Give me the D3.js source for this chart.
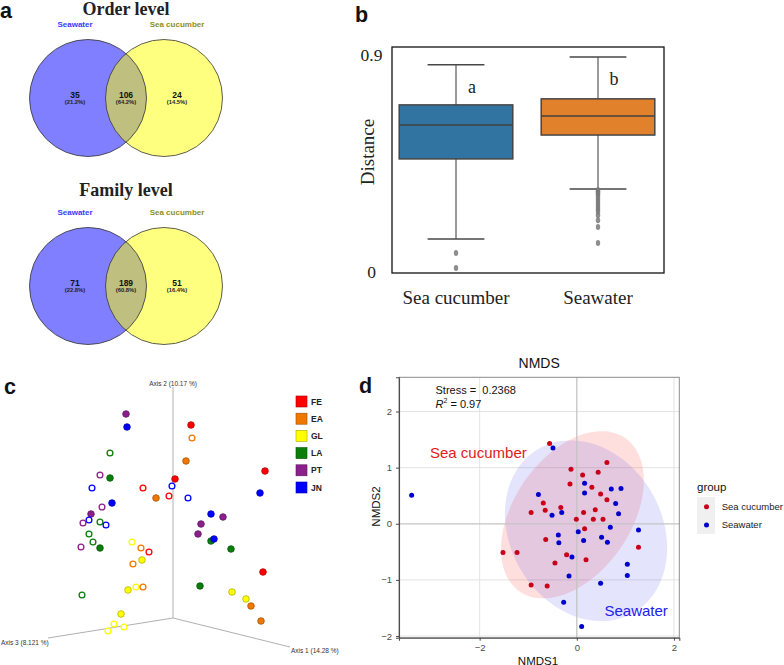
<!DOCTYPE html>
<html>
<head>
<meta charset="utf-8">
<script src="https://cdn.jsdelivr.net/npm/d3@7"></script>
<style>
  body { margin: 0; background: #fff; }
  svg { display: block; }
  .sans { font-family: "Liberation Sans", Arial, sans-serif; }
  .serif { font-family: "Liberation Serif", "Times New Roman", serif; }
</style>
</head>
<body>
<div id="chart"></div>
<script>
// ---------- panel a : venn diagrams
const vennTitles = ["Order level", "Family level"];
const vennSets = ["Seawater", "Sea cucumber"];
const vennCounts = [[35, 106, 24], [71, 189, 51]];
const vennPercents = [["21.2%", "64.2%", "14.5%"], ["22.8%", "60.8%", "16.4%"]];

// ---------- panel b : distance boxplots
const boxGroups = ["Sea cucumber", "Seawater"];
const boxLowWhisker = [0.137, 0.344];
const boxQ1 = [0.469, 0.568];
const boxMedian = [0.610, 0.647];
const boxQ3 = [0.693, 0.718];
const boxHighWhisker = [0.859, 0.892];
const boxOutliers = [
    [0.079, 0.017],
    [0.34, 0.335, 0.33, 0.325, 0.32, 0.31, 0.30, 0.29, 0.28, 0.27, 0.26, 0.25, 0.235, 0.215, 0.187, 0.120]
];
const boxLetters = ["a", "b"];
const boxTicks = [0, 0.9];

// ---------- panel c : 3D PCoA (projected coordinates)
const siteNames = ["FE", "EA", "GL", "LA", "PT", "JN"];
const pcoaAxisNames = ["Axis 1 (14.28 %)", "Axis 2 (10.17 %)", "Axis 3 (8.121 %)"];
const pcoaAxisEndU = [1.17, 0, -1.25];
const pcoaAxisEndV = [-0.29, 2.31, -0.20];
const pcoaSite = ["PT","JN","FE","EA","LA","EA","PT","LA","FE","FE","JN","FE","JN","FE","EA","JN","JN","JN","PT","PT",
    "JN","PT","LA","JN","JN","PT","PT","PT","LA","JN","LA","LA","LA","PT","LA","GL","EA","FE","GL","EA",
    "FE","LA","GL","GL","EA","LA","GL","GL","EA","EA","GL","GL","GL","GL"];
const pcoaFilled = [1,1,1,0,0,1,0,1,1,1,0,0,0,0,1,0,1,1,0,1,0,0,0,0,1,1,1,1,1,1,1,0,0,0,1,0,0,0,1,0,1,1,1,0,0,0,1,1,1,1,1,0,0,0];
const pcoaU = [-0.47,-0.46,0.18,0.19,-0.63,0.13,-0.73,-0.63,0.02,0.92,-0.81,-0.30,-0.01,-0.04,-0.17,0.15,0.87,-0.61,-0.71,-0.82,
    -0.84,-0.90,-0.73,-0.67,0.38,0.50,0.28,0.25,0.38,0.41,0.58,-0.84,-0.80,-0.92,-0.73,-0.41,-0.32,-0.24,-0.31,-0.40,
    0.90,0.27,-0.45,-0.37,-0.30,-0.91,0.59,0.73,0.78,0.88,-0.52,-0.59,-0.49,-0.65];
const pcoaV = [2.04,1.91,1.93,1.80,1.65,1.57,1.43,1.40,1.39,1.47,1.30,1.30,1.32,1.22,1.20,1.20,1.25,1.15,1.11,1.04,
    0.98,0.95,0.96,0.93,1.04,1.01,0.94,0.84,0.77,0.79,0.69,0.84,0.76,0.71,0.70,0.76,0.70,0.66,0.58,0.54,
    0.46,0.32,0.28,0.31,0.31,0.23,0.26,0.19,0.12,-0.03,0.04,-0.06,-0.09,-0.13];

// ---------- panel d : NMDS
const nmdsGroups = ["Sea cucumber", "Seawater"];
const seaCucumberX = [-0.56,0.62,-0.12,0.12,0.44,-0.14,0.31,0.49,0.62,-0.69,-0.33,-0.94,-0.65,0.38,0.14,-0.01,0.34,0.54,0.16,-0.64,-1.52,-1.23,-0.21,-0.45,0.19,1.27,-0.94,-0.61];
const seaCucumberY = [1.43,1.09,0.97,0.87,0.92,0.71,0.65,0.53,0.43,0.37,0.29,0.20,0.24,0.25,0.20,0.08,0.08,0.08,-0.09,-0.28,-0.51,-0.51,-0.55,-0.70,-0.64,-0.42,-1.09,-1.11];
const seawaterX = [-3.40,-0.49,0.16,0.16,0.71,0.91,-0.79,0.80,0.86,-0.51,-0.31,0.03,0.69,-0.38,-0.37,0.14,0.51,0.63,1.27,-0.10,1.04,1.04,-0.16,0.49,-0.27,0.10];
const seawaterY = [0.51,1.35,0.72,0.55,0.62,0.63,0.52,0.36,0.18,0.15,0.20,-0.14,-0.06,-0.20,-0.34,-0.30,-0.24,-0.33,-0.11,-0.59,-0.72,-0.92,-0.93,-1.06,-1.40,-1.83];
// stat_ellipse shapes: centre, spread and correlation
const ellipseCx = [-0.09, 0.19];
const ellipseCy = [0.16, -0.125];
const ellipseSdX = [1.47, 1.67];
const ellipseSdY = [1.49, 1.61];
const ellipseCorr = [0.41, -0.19];
const nmdsXTicks = [-2, 0, 2];
const nmdsYTicks = [-2, -1, 0, 1, 2];
const nmdsStress = 0.2368;
const nmdsR2 = 0.97;


const svg = d3.select("#chart")
    .append("svg")
    .attr("width", 784)
    .attr("height", 665)
    .attr("viewBox", "0 0 784 665");

// panel letters
const panelLetters = [["a", 0, 18], ["b", 355, 22], ["c", 4, 394], ["d", 359, 393]];
svg.selectAll("text.panel")
    .data(panelLetters)
    .enter().append("text")
    .attr("class", "panel sans")
    .attr("x", d => d[1])
    .attr("y", d => d[2])
    .attr("font-size", 21.5)
    .attr("font-weight", "bold")
    .attr("fill", "#111")
    .text(d => d[0]);

// ================= panel a =================
const vennTitleY = [14.5, 196];
const vennCenterY = [98, 286];
const vennCx = [88, 164];
const vennR = 58.5;
const vennLabelX = [75, 126, 177];

vennTitles.forEach((title, i) => {
    let g = svg.append("g");
    let cy = vennCenterY[i];

    g.append("text")
        .attr("class", "serif")
        .attr("x", 126).attr("y", vennTitleY[i])
        .attr("text-anchor", "middle")
        .attr("font-size", 18)
        .attr("font-weight", "bold")
        .attr("fill", "#222")
        .text(title);

    // set names
    g.append("text").attr("class", "sans")
        .attr("x", 75).attr("y", cy - 71)
        .attr("text-anchor", "middle").attr("font-size", 8).attr("font-weight", "bold")
        .attr("fill", "#3a3aff").text(vennSets[0]);
    g.append("text").attr("class", "sans")
        .attr("x", 177).attr("y", cy - 71)
        .attr("text-anchor", "middle").attr("font-size", 8).attr("font-weight", "bold")
        .attr("fill", "#8e8e1c").text(vennSets[1]);

    // fills (yellow on top gives the olive overlap)
    g.append("circle").attr("cx", vennCx[0]).attr("cy", cy).attr("r", vennR)
        .attr("fill", "#0000ff").attr("fill-opacity", 0.5);
    g.append("circle").attr("cx", vennCx[1]).attr("cy", cy).attr("r", vennR)
        .attr("fill", "#ffff00").attr("fill-opacity", 0.5);
    g.selectAll("circle.edge")
        .data(vennCx)
        .enter().append("circle")
        .attr("class", "edge")
        .attr("cx", d => d).attr("cy", cy).attr("r", vennR)
        .attr("fill", "none").attr("stroke", "#333").attr("stroke-width", 0.8);

    vennCounts[i].forEach((c, k) => {
        g.append("text").attr("class", "sans")
            .attr("x", vennLabelX[k]).attr("y", cy)
            .attr("text-anchor", "middle").attr("font-size", 8.5).attr("font-weight", "bold")
            .attr("fill", "#111").text(c);
        g.append("text").attr("class", "sans")
            .attr("x", vennLabelX[k]).attr("y", cy + 6)
            .attr("text-anchor", "middle").attr("font-size", 5.8).attr("font-weight", "bold")
            .attr("fill", "#222").text("(" + vennPercents[i][k] + ")");
    });
});

// ================= panel b =================
let bFrame = { left: 392, right: 664, top: 47, bottom: 273 };
let bx = d3.scaleBand().domain(boxGroups).range([385, 669]).paddingInner(0).paddingOuter(0);
let by = d3.scaleLinear().domain([-0.004, 0.933]).range([bFrame.bottom, bFrame.top]);
let boxW = bx.bandwidth() * 0.8;
let capW = boxW * 0.5;
const boxColors = ["#3274a1", "#e1812c"];

let gb = svg.append("g");

boxGroups.forEach((grp, i) => {
    let xc = bx(grp) + bx.bandwidth() / 2;
    // whiskers
    gb.append("line").attr("x1", xc).attr("x2", xc)
        .attr("y1", by(boxQ3[i])).attr("y2", by(boxHighWhisker[i]))
        .attr("stroke", "#7a7a7a").attr("stroke-width", 1.5);
    gb.append("line").attr("x1", xc).attr("x2", xc)
        .attr("y1", by(boxQ1[i])).attr("y2", by(boxLowWhisker[i]))
        .attr("stroke", "#7a7a7a").attr("stroke-width", 1.5);
    [boxHighWhisker[i], boxLowWhisker[i]].forEach(v => {
        gb.append("line").attr("x1", xc - capW / 2).attr("x2", xc + capW / 2)
            .attr("y1", by(v)).attr("y2", by(v))
            .attr("stroke", "#474747").attr("stroke-width", 1.5);
    });
    // box
    gb.append("rect")
        .attr("x", xc - boxW / 2).attr("width", boxW)
        .attr("y", by(boxQ3[i])).attr("height", by(boxQ1[i]) - by(boxQ3[i]))
        .attr("fill", boxColors[i]).attr("stroke", "#454545").attr("stroke-width", 1.5);
    gb.append("line").attr("x1", xc - boxW / 2).attr("x2", xc + boxW / 2)
        .attr("y1", by(boxMedian[i])).attr("y2", by(boxMedian[i]))
        .attr("stroke", "#404040").attr("stroke-width", 1.5);
    // fliers
    gb.selectAll("ellipse.o" + i)
        .data(boxOutliers[i])
        .enter().append("ellipse")
        .attr("class", "o" + i)
        .attr("cx", xc).attr("cy", d => by(d))
        .attr("rx", 2.2).attr("ry", 3)
        .attr("fill", "#7a7a7a").attr("fill-opacity", 0.85);
    // letters
    gb.append("text").attr("class", "serif")
        .attr("x", xc + 16).attr("y", by(boxHighWhisker[i]) + 28)
        .attr("text-anchor", "middle").attr("font-size", 18).attr("fill", "#222")
        .text(boxLetters[i]);
});

gb.append("rect")
    .attr("x", bFrame.left).attr("y", bFrame.top)
    .attr("width", bFrame.right - bFrame.left).attr("height", bFrame.bottom - bFrame.top)
    .attr("fill", "none").attr("stroke", "#111").attr("stroke-width", 1.3);

let byAxis = gb.append("g")
    .attr("transform", "translate(" + bFrame.left + ",0)")
    .call(d3.axisLeft(by).tickValues(boxTicks).tickSize(0).tickFormat(d3.format("")));
byAxis.select(".domain").remove();
byAxis.selectAll("text")
    .attr("font-family", "Liberation Serif, serif")
    .attr("font-size", 17.5).attr("fill", "#222")
    .attr("text-anchor", "middle").attr("x", -20.5);

let bxAxis = gb.append("g")
    .attr("transform", "translate(0," + bFrame.bottom + ")")
    .call(d3.axisBottom(bx).tickSize(0).tickPadding(17.5));
bxAxis.select(".domain").remove();
bxAxis.selectAll("text")
    .attr("font-family", "Liberation Serif, serif")
    .attr("font-size", 19).attr("fill", "#222");

gb.append("text").attr("class", "serif")
    .attr("transform", "translate(374,152) rotate(-90)")
    .attr("text-anchor", "middle").attr("font-size", 19).attr("fill", "#222")
    .text("Distance");

// ================= panel c =================
let cx = d3.scaleLinear().domain([0, 1]).range([173, 273]);
let cy = d3.scaleLinear().domain([0, 1]).range([618, 518]);
let siteColor = d3.scaleOrdinal().domain(siteNames)
    .range(["#ff0000", "#f07800", "#ffff00", "#0a7d0a", "#8b1f8b", "#0000ff"]);

let gc = svg.append("g");

pcoaAxisNames.forEach((name, k) => {
    gc.append("line")
        .attr("x1", cx(0)).attr("y1", cy(0))
        .attr("x2", cx(pcoaAxisEndU[k])).attr("y2", cy(pcoaAxisEndV[k]))
        .attr("stroke", "#b0b0b0").attr("stroke-width", 1);
});
gc.append("text").attr("class", "sans")
    .attr("x", cx(pcoaAxisEndU[1])).attr("y", cy(pcoaAxisEndV[1]) - 1)
    .attr("text-anchor", "middle").attr("font-size", 6.5).attr("fill", "#333")
    .text(pcoaAxisNames[1]);
gc.append("text").attr("class", "sans")
    .attr("x", cx(pcoaAxisEndU[0]) + 1).attr("y", cy(pcoaAxisEndV[0]) + 6)
    .attr("font-size", 6.5).attr("fill", "#333")
    .text(pcoaAxisNames[0]);
gc.append("text").attr("class", "sans")
    .attr("x", 1).attr("y", cy(pcoaAxisEndV[2]) + 7)
    .attr("font-size", 6.5).attr("fill", "#333")
    .text(pcoaAxisNames[2]);

let pcoaData = pcoaSite.map((s, i) => ({ site: s, filled: pcoaFilled[i], u: pcoaU[i], v: pcoaV[i] }));
gc.selectAll("circle.pt")
    .data(pcoaData)
    .enter().append("circle")
    .attr("class", "pt")
    .attr("cx", d => cx(d.u)).attr("cy", d => cy(d.v))
    .attr("r", d => d.filled ? 3.3 : 2.9)
    .attr("fill", d => d.filled ? siteColor(d.site) : "#fff")
    .attr("stroke", d => d.filled ? d3.color(siteColor(d.site)).darker(1) : siteColor(d.site))
    .attr("stroke-width", d => d.filled ? 0.8 : 1.3);

// legend
let cLegend = gc.append("g").attr("transform", "translate(296,396)");
cLegend.selectAll("rect")
    .data(siteNames)
    .enter().append("rect")
    .attr("x", 0).attr("y", (d, i) => i * 17.2)
    .attr("width", 11).attr("height", 11)
    .attr("fill", d => siteColor(d))
    .attr("stroke", d => d3.color(siteColor(d)).darker(1.2)).attr("stroke-width", 0.6);
cLegend.selectAll("text")
    .data(siteNames)
    .enter().append("text")
    .attr("class", "sans")
    .attr("x", 15).attr("y", (d, i) => i * 17.2 + 8.5)
    .attr("font-size", 8.5).attr("font-weight", "bold").attr("fill", "#222")
    .text(d => d);

// ================= panel d =================
let dBox = { left: 399, right: 679.3, top: 377.3, bottom: 637.7 };
let dx = d3.scaleLinear().domain([-3.66, 2.11]).range([dBox.left, dBox.right]);
let dy = d3.scaleLinear().domain([-2.03, 2.61]).range([dBox.bottom, dBox.top]);
const groupColor = ["#c8001a", "#0000cc"];
const ellipseFill = ["#ff3030", "#4a4aee"];
const minusFmt = d => d < 0 ? "\u2212" + Math.abs(d) : String(d);

let gd = svg.append("g");

gd.selectAll("line.gx")
    .data(nmdsXTicks.filter(d => d != 0))
    .enter().append("line").attr("class", "gx")
    .attr("x1", d => dx(d)).attr("x2", d => dx(d))
    .attr("y1", dBox.top).attr("y2", dBox.bottom)
    .attr("stroke", "#e0e0e0").attr("stroke-width", 0.9);
gd.selectAll("line.gy")
    .data(nmdsYTicks.filter(d => d != 0))
    .enter().append("line").attr("class", "gy")
    .attr("x1", dBox.left).attr("x2", dBox.right)
    .attr("y1", d => dy(d)).attr("y2", d => dy(d))
    .attr("stroke", "#e0e0e0").attr("stroke-width", 0.9);

// ellipses
function ellipsePoints(i) {
    return d3.range(0, 361, 3).map(t => {
        let a = t * Math.PI / 180;
        let ex = ellipseCx[i] + ellipseSdX[i] * Math.cos(a);
        let ey = ellipseCy[i] + ellipseSdY[i] * (ellipseCorr[i] * Math.cos(a) + Math.sqrt(1 - ellipseCorr[i] * ellipseCorr[i]) * Math.sin(a));
        return [ex, ey];
    });
}
let ellLine = d3.line().x(d => dx(d[0])).y(d => dy(d[1]));
nmdsGroups.forEach((g, i) => {
    gd.append("path")
        .datum(ellipsePoints(i))
        .attr("d", ellLine)
        .attr("fill", ellipseFill[i])
        .attr("fill-opacity", i == 0 ? 0.16 : 0.15)
        .attr("stroke", "none");
});

// zero reference lines
gd.append("line").attr("x1", dx(0)).attr("x2", dx(0))
    .attr("y1", dBox.top).attr("y2", dBox.bottom)
    .attr("stroke", "#c4c4c4").attr("stroke-width", 1.3);
gd.append("line").attr("x1", dBox.left).attr("x2", dBox.right)
    .attr("y1", dy(0)).attr("y2", dy(0))
    .attr("stroke", "#c4c4c4").attr("stroke-width", 1.3);

let nmdsSets = [
    seaCucumberX.map((x, i) => [x, seaCucumberY[i]]),
    seawaterX.map((x, i) => [x, seawaterY[i]])
];
nmdsSets.forEach((pts, i) => {
    gd.selectAll("circle.g" + i)
        .data(pts)
        .enter().append("circle")
        .attr("class", "g" + i)
        .attr("cx", d => dx(d[0])).attr("cy", d => dy(d[1]))
        .attr("r", 2.5)
        .attr("fill", groupColor[i]);
});

// frame
gd.append("rect")
    .attr("x", dBox.left).attr("y", dBox.top)
    .attr("width", dBox.right - dBox.left).attr("height", dBox.bottom - dBox.top)
    .attr("fill", "none").attr("stroke", "#8c8c8c").attr("stroke-width", 1);

let dxAxis = gd.append("g")
    .attr("transform", "translate(0," + dBox.bottom + ")")
    .call(d3.axisBottom(dx).tickValues(nmdsXTicks).tickSize(3).tickPadding(4).tickFormat(minusFmt));
let dyAxis = gd.append("g")
    .attr("transform", "translate(" + dBox.left + ",0)")
    .call(d3.axisLeft(dy).tickValues(nmdsYTicks).tickSize(3).tickPadding(4).tickFormat(minusFmt));
[dxAxis, dyAxis].forEach(ax => {
    ax.select(".domain").attr("stroke", "#4d4d4d").attr("stroke-width", 1.1);
    ax.selectAll(".tick line").attr("stroke", "#4d4d4d");
    ax.selectAll("text")
        .attr("font-family", "Liberation Sans, Arial, sans-serif")
        .attr("font-size", 9.5).attr("fill", "#4d4d4d");
});

gd.append("text").attr("class", "sans")
    .attr("x", (dBox.left + dBox.right) / 2).attr("y", 368)
    .attr("text-anchor", "middle").attr("font-size", 14).attr("fill", "#111")
    .text("NMDS");
gd.append("text").attr("class", "sans")
    .attr("x", 538).attr("y", 664.5)
    .attr("text-anchor", "middle").attr("font-size", 11.5).attr("fill", "#111")
    .text("NMDS1");
gd.append("text").attr("class", "sans")
    .attr("transform", "translate(380,506.5) rotate(-90)")
    .attr("text-anchor", "middle").attr("font-size", 11.5).attr("fill", "#111")
    .text("NMDS2");

gd.append("text").attr("class", "sans")
    .attr("x", 435.5).attr("y", 393.5)
    .attr("font-size", 11).attr("fill", "#111")
    .attr("xml:space", "preserve")
    .text("Stress =  " + nmdsStress);
let r2 = gd.append("text").attr("class", "sans")
    .attr("x", 435.5).attr("y", 407.5)
    .attr("font-size", 11).attr("fill", "#111");
r2.append("tspan").attr("font-style", "italic").text("R");
r2.append("tspan").attr("font-size", 7).attr("dy", -4.5).text("2");
r2.append("tspan").attr("dy", 4.5).text(" = " + nmdsR2);

gd.append("text").attr("class", "sans")
    .attr("x", 430).attr("y", 458)
    .attr("font-size", 15).attr("fill", "#e01b1b")
    .text(nmdsGroups[0]);
gd.append("text").attr("class", "sans")
    .attr("x", 604.5).attr("y", 615.5)
    .attr("font-size", 15).attr("fill", "#2020ee")
    .text(nmdsGroups[1]);

// legend
let dLegend = gd.append("g").attr("transform", "translate(697,0)");
dLegend.append("text").attr("class", "sans")
    .attr("x", 0).attr("y", 491)
    .attr("font-size", 11.5).attr("fill", "#111")
    .text("group");
dLegend.append("rect")
    .attr("x", 0).attr("y", 497).attr("width", 18).attr("height", 37)
    .attr("fill", "#f0f0f0");
nmdsGroups.forEach((g, i) => {
    dLegend.append("circle")
        .attr("cx", 9.5).attr("cy", 506.7 + i * 18.3).attr("r", 2.5)
        .attr("fill", groupColor[i]);
    dLegend.append("text").attr("class", "sans")
        .attr("x", 24.7).attr("y", 510 + i * 18.3)
        .attr("font-size", 9.5).attr("fill", "#222")
        .text(g);
});
</script>
</body>
</html>
